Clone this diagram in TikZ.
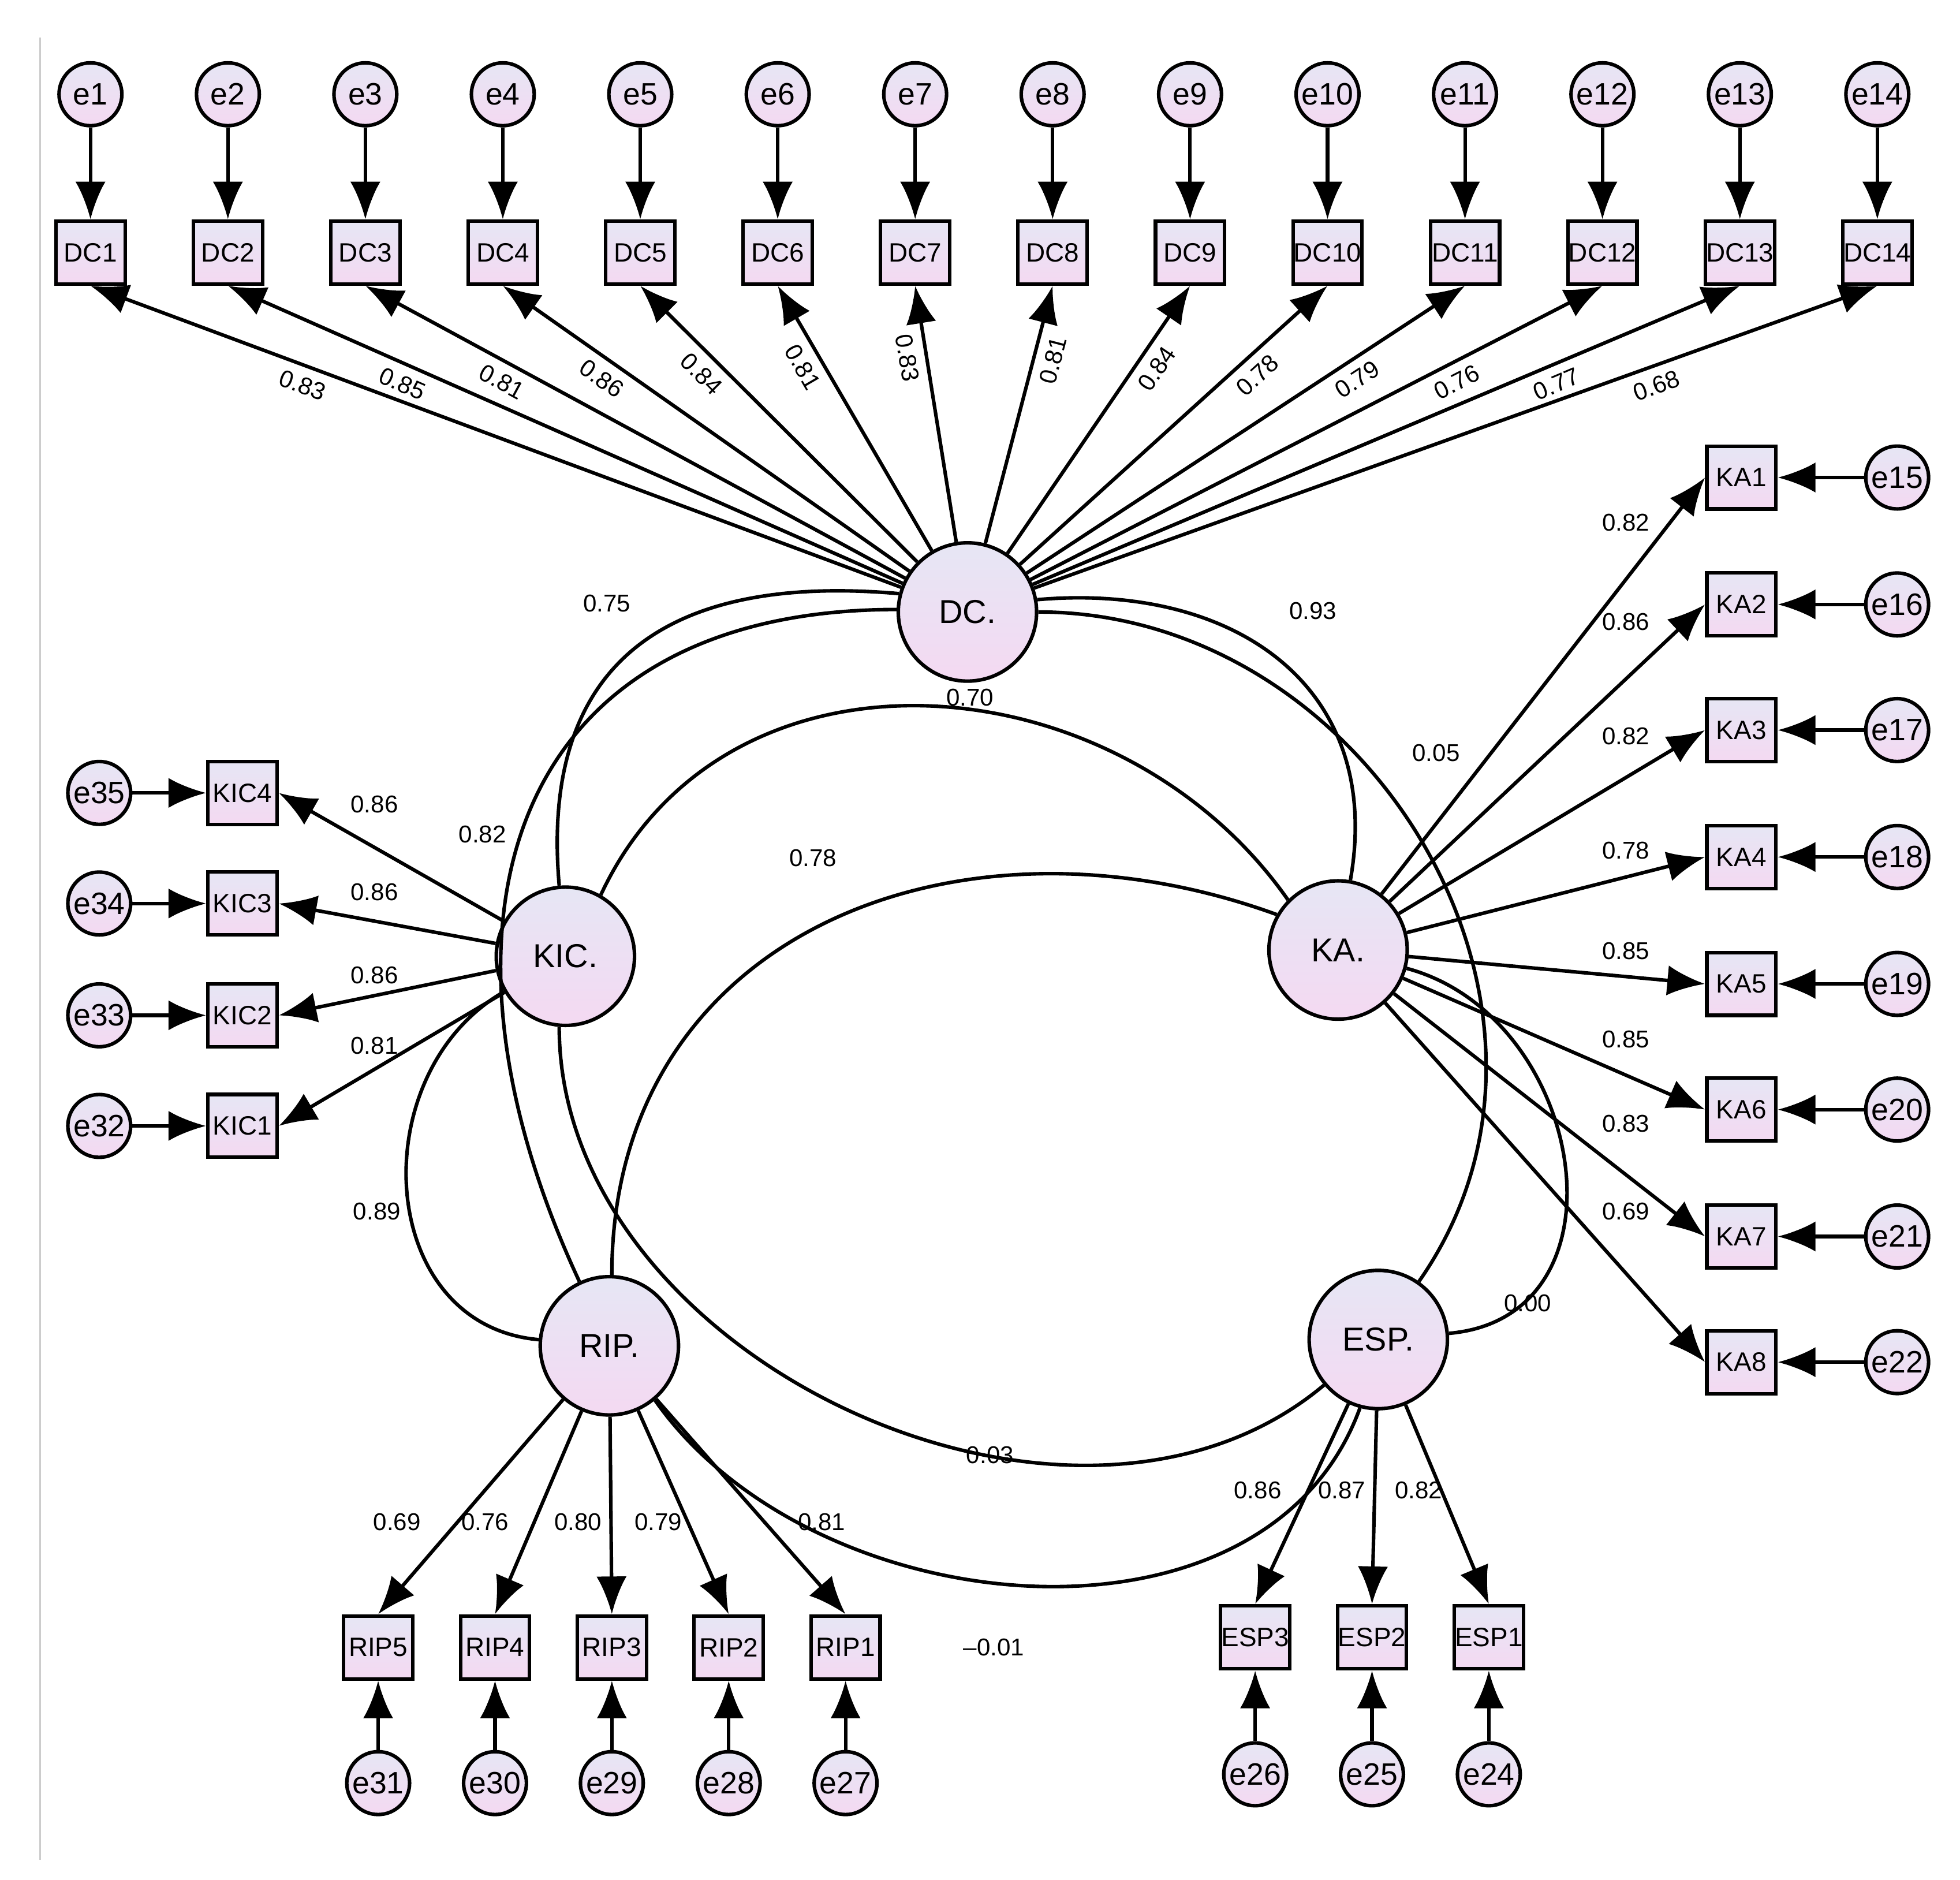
\documentclass[tikz,border=0pt]{standalone}
\usepackage{fontspec}
\setmainfont{Liberation Sans}
\usetikzlibrary{arrows.meta}
\definecolor{boxtop}{HTML}{E6E6F4}
\definecolor{boxbot}{HTML}{F4D9F2}
\tikzset{
  err/.style={circle, draw, thick, minimum size=0.5cm, inner sep=0pt, top color=boxtop, bottom color=boxbot, font=\fontsize{7}{8}\selectfont},
  obs/.style={rectangle, draw, thick, minimum width=0.55cm, minimum height=0.5cm, inner sep=0pt, top color=boxtop, bottom color=boxbot, font=\fontsize{6}{7}\selectfont},
  lat/.style={circle, draw, thick, minimum size=1.1cm, inner sep=0pt, top color=boxtop, bottom color=boxbot, font=\fontsize{7.5}{9}\selectfont},
  path/.style={thick, -{Latex[length=0.3cm, width=0.24cm]}},
  cov/.style={thick},
  est/.style={font=\fontsize{5.5}{6}\selectfont, inner sep=1pt}
}
\begin{document}
\begin{tikzpicture}[x=0.01cm, y=-0.01cm]
    \useasboundingbox (0,0) rectangle (1560,1496);
    \draw[gray!40] (32,30) -- (32,1480);
    % latent variables
    \node[lat] (DC) at (770,487) {DC.};
    \node[lat] (KIC) at (450,761) {KIC.};
    \node[lat] (KA) at (1065,756) {KA.};
    \node[lat] (RIP) at (485,1071) {RIP.};
    \node[lat] (ESP) at (1097,1066) {ESP.};
    % DC indicators
    \foreach \i/\v in {1/0.83, 2/0.85, 3/0.81, 4/0.86, 5/0.84, 6/0.81, 7/0.83,
                       8/0.81, 9/0.84, 10/0.78, 11/0.79, 12/0.76, 13/0.77, 14/0.68} {
        \node[err] (e\i) at ({72+(\i-1)*109.4},75) {e\i};
        \node[obs] (DC\i) at ({72+(\i-1)*109.4},201) {DC\i};
        \draw[path] (e\i) -- (DC\i);
        \draw[path] (DC) -- node[est, pos=0.73, sloped, below=1pt] {\v} (DC\i.south);
    }
    % KA indicators
    \foreach \i/\y/\v/\ly in {1/380/0.82/416, 2/481/0.86/495, 3/581/0.82/586, 4/682/0.78/677,
                          5/783/0.85/757, 6/883/0.85/827, 7/984/0.83/894, 8/1084/0.69/964} {
        \pgfmathtruncatemacro{\k}{\i+14}
        \node[obs] (KA\i) at (1386,\y) {KA\i};
        \node[err] (e\k) at (1510,\y) {e\k};
        \draw[path] (e\k) -- (KA\i);
        \draw[path] (KA) -- (KA\i.west);
        \node[est] at (1294,\ly) {\v};
    }
    % KIC indicators
    \foreach \i/\y/\v/\ly in {4/631/0.86/640, 3/719/0.86/710, 2/808/0.86/776, 1/896/0.81/832} {
        \pgfmathtruncatemacro{\k}{\i+31}
        \node[obs] (KIC\i) at (193,\y) {KIC\i};
        \node[err] (e\k) at (79,\y) {e\k};
        \draw[path] (e\k) -- (KIC\i);
        \draw[path] (KIC) -- (KIC\i.east);
        \node[est] at (298,\ly) {\v};
    }
    % RIP indicators
    \foreach \i/\x/\v/\lx in {5/301/0.69/316, 4/394/0.76/386, 3/487/0.80/460, 2/580/0.79/524, 1/673/0.81/654} {
        \pgfmathtruncatemacro{\k}{\i+26}
        \node[obs] (RIP\i) at (\x,1311) {RIP\i};
        \node[err] (e\k) at (\x,1419) {e\k};
        \draw[path] (e\k) -- (RIP\i);
        \draw[path] (RIP) -- (RIP\i.north);
        \node[est] at (\lx,1211) {\v};
    }
    % ESP indicators
    \foreach \i/\x/\v/\lx in {3/999/0.86/1001, 2/1092/0.87/1068, 1/1185/0.82/1129} {
        \pgfmathtruncatemacro{\k}{\i+23}
        \node[obs] (ESP\i) at (\x,1303) {ESP\i};
        \node[err] (e\k) at (\x,1412) {e\k};
        \draw[path] (e\k) -- (ESP\i);
        \draw[path] (ESP) -- (ESP\i.north);
        \node[est] at (\lx,1186) {\v};
    }
    % covariances
    \draw[cov] (DC.165) to[out=175, in=95, looseness=1.3] (KIC.95);
    \draw[cov] (DC.178) to[out=180, in=115, looseness=1.35] (RIP.115);
    \draw[cov] (DC.10) to[out=5, in=80, looseness=1.2] (KA.80);
    \draw[cov] (DC.0) to[out=0, in=55, looseness=1.1] (ESP.55);
    \draw[cov] (KIC.60) to[out=65, in=125, looseness=1.1] (KA.135);
    \draw[cov] (KIC.265) to[out=-90, in=-140, looseness=1.0] (ESP.220);
    \draw[cov] (KIC.210) to[out=210, in=175, looseness=1.2] (RIP.175);
    \draw[cov] (KA.150) to[out=160, in=90, looseness=1.15] (RIP.88);
    \draw[cov] (KA.-15) to[out=-15, in=5, looseness=1.3] (ESP.5);
    \draw[cov] (RIP.-50) to[out=-55, in=-110, looseness=1.0] (ESP.-105);
    \node[est] at (483,480) {0.75};
    \node[est] at (1045,486) {0.93};
    \node[est] at (772,555) {0.70};
    \node[est] at (1143,599) {0.05};
    \node[est] at (384,664) {0.82};
    \node[est] at (647,683) {0.78};
    \node[est] at (300,964) {0.89};
    \node[est] at (1216,1037) {0.00};
    \node[est] at (788,1158) {0.03};
    \node[est] at (791,1311) {\textendash0.01};
\end{tikzpicture}
\end{document}
